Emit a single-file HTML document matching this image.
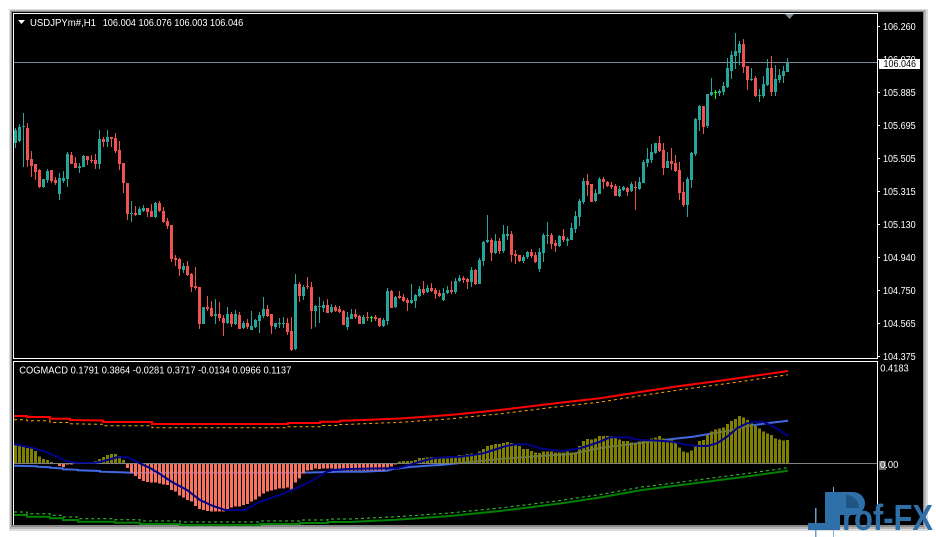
<!DOCTYPE html>
<html>
<head>
<meta charset="utf-8">
<style>
html,body{margin:0;padding:0;background:#ffffff;width:936px;height:537px;overflow:hidden}
svg{display:block}
text{font-family:"Liberation Sans",Arial,sans-serif}
</style>
</head>
<body>
<svg id="s" width="936" height="537" viewBox="0 0 936 537" xmlns="http://www.w3.org/2000/svg">
  <!-- frame / shadow -->
  <rect x="0" y="0" width="936" height="537" fill="#ffffff"/>
  <rect x="9" y="9" width="919" height="522" fill="#dcdcdc"/>
  <rect x="10" y="10" width="916" height="519" fill="#b4b4b4"/>
  <rect x="11" y="11" width="913" height="516" fill="#8a8a8a"/>
  <rect x="12" y="12" width="911" height="513" fill="#000000"/>

  <g shape-rendering="crispEdges" fill="#ffffff">
    <!-- main window borders -->
    <rect x="13" y="13" width="865" height="1"/>
    <rect x="13" y="13" width="1" height="346"/>
    <rect x="877" y="13" width="1" height="346"/>
    <rect x="13" y="358" width="865" height="1"/>
    <!-- indicator window borders -->
    <rect x="13" y="361" width="865" height="1"/>
    <rect x="13" y="361" width="1" height="164"/>
    <rect x="877" y="361" width="1" height="164"/>
  </g>

  <!-- price scale ticks -->
  <g shape-rendering="crispEdges" fill="#ffffff">
    <rect x="878" y="26" width="2" height="1"/>
    <rect x="878" y="59" width="2" height="1"/>
    <rect x="878" y="92" width="2" height="1"/>
    <rect x="878" y="125" width="2" height="1"/>
    <rect x="878" y="158" width="2" height="1"/>
    <rect x="878" y="191" width="2" height="1"/>
    <rect x="878" y="224" width="2" height="1"/>
    <rect x="878" y="257" width="2" height="1"/>
    <rect x="878" y="290" width="2" height="1"/>
    <rect x="878" y="323" width="2" height="1"/>
    <rect x="878" y="356" width="2" height="1"/>
  </g>

  <!-- price labels -->
  <g fill="#ffffff" font-size="10">
    <text x="883" y="29.8" textLength="32.7" lengthAdjust="spacingAndGlyphs">106.260</text>
    <text x="883" y="62.8" textLength="32.7" lengthAdjust="spacingAndGlyphs">106.070</text>
    <text x="883" y="95.8" textLength="32.7" lengthAdjust="spacingAndGlyphs">105.885</text>
    <text x="883" y="128.8" textLength="32.7" lengthAdjust="spacingAndGlyphs">105.695</text>
    <text x="883" y="161.8" textLength="32.7" lengthAdjust="spacingAndGlyphs">105.505</text>
    <text x="883" y="194.8" textLength="32.7" lengthAdjust="spacingAndGlyphs">105.315</text>
    <text x="883" y="227.8" textLength="32.7" lengthAdjust="spacingAndGlyphs">105.130</text>
    <text x="883" y="260.8" textLength="32.7" lengthAdjust="spacingAndGlyphs">104.940</text>
    <text x="883" y="293.8" textLength="32.7" lengthAdjust="spacingAndGlyphs">104.750</text>
    <text x="883" y="326.8" textLength="32.7" lengthAdjust="spacingAndGlyphs">104.565</text>
    <text x="883" y="359.8" textLength="32.7" lengthAdjust="spacingAndGlyphs">104.375</text>
  </g>

  <!-- current price line & label -->
  <rect x="14" y="62" width="863" height="1" fill="#7d8a97" shape-rendering="crispEdges"/>
  <rect x="879" y="59" width="41" height="10" fill="#ffffff" shape-rendering="crispEdges"/>
  <text x="883.5" y="67" font-size="10" fill="#000000" textLength="32.5" lengthAdjust="spacingAndGlyphs">106.046</text>

  <!-- top shift marker -->
  <polygon points="785,14 794,14 789.5,19" fill="#7d8a97"/>

  <!-- header -->
  <polygon points="18,20 25,20 21.5,24" fill="#ffffff"/>
  <text x="30" y="26" font-size="10" fill="#ffffff" textLength="66" lengthAdjust="spacingAndGlyphs">USDJPYm#,H1</text>
  <text x="102.7" y="26" font-size="10" fill="#ffffff" textLength="140.6" lengthAdjust="spacingAndGlyphs">106.004 106.076 106.003 106.046</text>

  <!-- candles -->
  <g id="cd" shape-rendering="crispEdges"></g>

  <!-- indicator -->
  <text x="19.3" y="373.7" font-size="10" fill="#ffffff" textLength="272" lengthAdjust="spacingAndGlyphs">COGMACD 0.1791 0.3864 -0.0281 0.3717 -0.0134 0.0966 0.1137</text>
  <text x="880.3" y="371.7" font-size="10" fill="#ffffff" textLength="28.4" lengthAdjust="spacingAndGlyphs">0.4183</text>
  <rect x="879" y="461" width="7" height="9" fill="#6e6e6e" shape-rendering="crispEdges"/>
  <text x="880" y="467.8" font-size="10" fill="#ffffff" textLength="18.3" lengthAdjust="spacingAndGlyphs">0.00</text>

  <polyline fill="none" stroke="#ff0000" stroke-width="2" points="14,416 27,416 27,417 50,417 50,418.7 70,418.7 70,420 103,420.5 103,422 152,422 152,424 288,424 288,423 320,423 320,421.7 340,421.7 340,420.7 350,420.5 400,418.5 450,415 500,410 560,402.7 600,398.3 640,392 680,386 720,380.7 760,375 788,371"/>
  <polyline fill="none" stroke="#ffa500" stroke-width="1" stroke-dasharray="3,3" points="14,419.8 27,419.8 27,420.8 50,420.8 50,422.5 70,422.5 70,423.8 103,424.3 103,425.8 152,425.8 152,427.8 288,427.8 288,426.8 320,426.8 320,425.5 340,425.5 340,424.5 350,424.3 400,422.3 450,418.8 500,413.8 560,406.5 600,402.1 640,395.8 680,389.8 720,384.5 760,378.8 788,374.8"/>
  <polyline fill="none" stroke="#008000" stroke-width="2" points="14,515 27,515 27,516.7 50,516.7 50,518.3 63,518.3 63,520 78,520 78,521.7 115,521.7 115,522.7 140,522.7 140,524 180,524 180,525 260,525 260,524 300,524 300,523 328,523 328,522 350,522 400,519.5 450,516 500,511 560,503.5 600,497.5 642,490 693,483.5 720,480 747,476.5 788,470.7"/>
  <polyline fill="none" stroke="#32cd32" stroke-width="1" stroke-dasharray="3,3" points="14,512 27,512 27,513.7 50,513.7 50,515.3 63,515.3 63,517 78,517 78,518.7 115,518.7 115,519.7 140,519.7 140,521 180,521 180,522 260,522 260,521 300,521 300,520 328,520 328,519 350,519 400,516.5 450,513 500,508 560,500.5 600,494.5 642,487 693,480.5 720,477 747,473.5 788,467.7"/>
  <polyline fill="none" stroke="#4169e1" stroke-width="2" points="14,465.7 37,466.2 37,466.7 50,467.2 50,467.7 63,468.5 63,469.3 78,469.8 78,470.3 100,471 100,471.7 120,472.2 130,472.7 300,472.7 340,471.7 363,471.7 387,470.7 393,469 400,468.3 410,467 427,465.7 440,465 473,461.7 500,459 527,457 553,455 570,454.3 600,448 670,439.3 693,436.7 713,433.3 733,430 747,426 767,423.3 788,420.7"/>

  <g id="hist" shape-rendering="crispEdges"></g>
  <rect x="14" y="463" width="863" height="1" fill="#808080" shape-rendering="crispEdges"/>

  <polyline fill="none" stroke="#00008b" stroke-width="2" points="14,444 33,448 45,451.7 57,456.7 65,460.7 75,462.7 95,462.7 100,462 110,459.3 117,457.3 127,457.3 135,460.7 140,463.3 150,468 160,474 172,482 187,490 200,500 213,506 225,510 245,510 260,501.7 280,495 300,486.7 313,480 327,471.7 333,470 347,469 387,468.3 397,468.3 407,465.7 420,461.7 433,458.3 447,457.3 460,456.7 473,455 483,453.3 497,449 507,445.7 517,444.3 527,444.3 540,448.3 553,450.3 563,451 580,448.3 600,441.7 610,437.3 627,437.3 640,440 660,440.7 673,441.7 687,445 700,446 707,446 717,443.3 727,436.7 737,428.3 747,423.3 757,421.7 763,421.7 770,425 780,430.7 788,436"/>

  <!-- Prof-FX logo -->
  <g>
    <rect x="833" y="487" width="1" height="50" fill="#8ab0d6"/>
    <rect x="815" y="508" width="1.5" height="29" fill="#6a9ccc"/>
    <rect x="808" y="523" width="17" height="7" fill="#2f6fa7"/>
    <rect x="825" y="492" width="15" height="38" fill="#2f6fa7"/>
    <path d="M839,492 H853 A12 11.5 0 0 1 853 515 H839 Z" fill="#2f6fa7"/>
    <path d="M846,495 A13 13 0 0 1 859 508 L846 508 Z" fill="#1f5583"/>
    <text x="842" y="530" font-size="36" font-weight="bold" fill="#2f6fa7" textLength="91" lengthAdjust="spacingAndGlyphs">rof-FX</text>
  </g>
</svg>

<script>
(function(){
var C=[
['g',130,143,128,148],['g',127,141,124,142],['g',126,127,113,167],['r',128,160,123,167],['r',159,166,151,177],
['r',164,172,164,180],['r',170,187,169,188],['g',179,187,179,188],['g',171,180,169,183],['r',170,181,170,183],
['r',180,183,177,185],['g',178,194,173,200],['g',178,181,171,183],['g',154,179,152,187],['r',155,164,152,164],
['r',163,168,157,168],['g',166,168,163,173],['g',156,167,155,167],['r',156,160,156,165],['r',160,161,155,163],
['r',160,164,154,169],['g',139,164,130,169],['r',139,142,137,147],['g',137,142,130,147],['r',137,139,137,147],
['r',138,151,133,153],['r',150,164,141,170],['r',163,183,163,193],['r',183,214,183,220],['g',213,214,201,222],
['r',213,215,206,216],['g',209,215,207,215],['g',208,211,205,212],['r',208,212,208,217],['r',211,217,204,217],
['g',203,217,202,218],['r',203,211,201,212],['r',211,222,207,223],['r',221,226,218,229],['r',225,259,225,262],
['r',258,260,255,266],['r',259,269,258,276],['g',266,270,263,273],['r',266,275,261,276],['r',274,287,273,292],
['r',286,288,267,290],['r',287,324,287,329],['g',307,324,307,324],['r',307,309,296,311],['r',308,316,301,317],
['g',314,316,299,324],['r',314,318,302,321],['r',318,323,315,336],['g',314,323,307,324],['r',314,324,312,327],
['g',314,324,310,325],['r',315,329,312,329],['g',323,328,321,329],['r',323,327,319,329],['g',326,330,311,330],
['g',320,327,319,328],['g',315,321,312,333],['g',309,316,297,318],['r',309,316,305,317],['r',314,326,314,334],
['g',323,327,323,329],['g',323,324,318,328],['g',323,324,317,328],['r',323,332,318,335],['r',331,350,317,351],
['g',284,349,274,350],['r',284,296,282,302],['g',287,296,285,300],['r',286,287,277,289],['r',287,311,282,329],
['g',306,311,305,327],['g',306,307,297,323],['g',305,308,301,312],['r',305,313,299,313],['g',307,312,304,313],
['r',307,311,305,312],['r',309,312,306,313],['r',311,325,310,325],['g',317,327,312,330],['g',314,319,309,319],
['r',314,317,309,319],['r',316,324,315,324],['g',317,324,315,324],['r',317,318,312,321],['l',317,318,316,322],
['r',317,319,315,321],['r',318,326,318,327],['g',320,326,318,327],['g',291,321,288,325],['r',291,308,290,308],
['g',297,307,296,308],['r',296,298,291,299],['r',297,301,294,302],['r',300,303,298,311],['g',300,303,284,304],
['g',295,301,294,308],['g',289,296,286,297],['r',289,293,281,295],['g',288,292,285,293],['r',288,291,283,292],
['r',290,294,288,299],['r',293,296,290,297],['g',293,300,288,301],['g',290,293,286,294],['r',290,292,281,294],
['g',281,292,278,294],['g',278,281,275,282],['r',278,280,276,283],['r',279,282,278,289],['g',270,282,267,287],
['r',270,284,269,285],['g',260,284,258,284],['g',242,261,241,266],['g',240,242,215,243],['r',240,253,238,261],
['g',241,253,234,254],['r',241,251,238,254],['g',234,251,225,253],['g',234,236,226,240],['r',234,255,231,262],
['r',254,256,250,264],['r',255,261,255,262],['g',257,261,255,263],['g',252,257,251,259],['r',252,256,249,258],
['r',255,262,252,263],['g',252,269,248,272],['g',235,253,233,262],['g',235,236,222,244],['r',235,244,233,249],
['r',243,246,240,252],['g',236,246,235,247],['r',236,240,229,242],['g',239,241,237,246],['g',228,240,223,240],
['g',216,229,211,233],['g',201,217,199,226],['g',181,202,178,204],['r',181,185,174,196],['r',184,202,184,202],
['g',193,201,189,202],['g',179,194,177,194],['r',179,182,177,189],['r',182,186,181,187],['r',185,187,182,189],
['r',186,196,184,196],['g',189,196,186,197],['g',187,190,186,191],['r',188,192,187,196],['g',184,191,182,192],
['r',187,188,181,210],['g',182,189,177,190],['g',162,183,160,183],['g',159,163,148,167],['g',152,160,144,163],
['g',143,153,143,154],['r',143,151,136,152],['r',150,168,143,175],['g',161,168,152,168],['r',161,164,148,170],
['r',163,171,155,172],['r',170,193,162,200],['r',192,205,182,207],['g',179,205,177,217],['g',153,180,152,188],
['g',119,154,118,156],['g',106,120,105,131],['r',106,127,106,134],['g',94,126,94,128],['g',92,95,78,96],
['l',92,93,90,99],['g',91,93,89,96],['g',86,92,82,95],['g',68,87,58,88],['g',55,71,51,79],
['g',51,56,33,69],['g',44,53,41,65],['r',44,67,39,73],['r',66,80,66,90],['g',79,80,68,81],
['r',78,96,76,97],['g',95,96,89,102],['g',84,96,76,98],['g',68,85,59,86],['r',68,92,56,96],
['g',79,92,65,96],['g',75,80,69,83],['g',71,76,66,83],['g',63,72,58,72]
];
var h='';
for(var i=0;i<C.length;i++){
  var c=C[i];
  var col=c[0]=='g'?'#26a69a':(c[0]=='r'?'#ef5350':'#00ff00');
  var x=14+4*i;
  h+='<rect x="'+(x+1)+'" y="'+c[3]+'" width="1" height="'+Math.max(1,c[4]-c[3])+'" fill="'+col+'"/>';
  h+='<rect x="'+x+'" y="'+c[1]+'" width="3" height="'+Math.max(1,c[2]-c[1])+'" fill="'+col+'"/>';
}
document.getElementById('cd').innerHTML=h;

var H=[445,446,447,448,448,451,456.7,459,460,462,
464,466,467,464.5,464.5,464,463.5,463,462.5,462,
461,459,457,455,454,454,456,460,468,473,
476,479,481,482,482.7,482.7,483.3,484.3,485,490,
491.7,495.7,497.3,500,501.7,506,509,510,511,511.7,
511.7,511.7,511.7,510,507.3,506.7,506.7,505,504,501.7,
499.3,496.7,493.3,491.7,490.7,489.3,488.3,488.3,487.3,490,
482.7,478.3,473.3,470.7,470,468.3,469,468.3,468.3,468.3,
469,469,470.7,470.7,470.7,470.7,470.7,470.7,470.7,470.7,
470.7,470.7,470.7,468.3,466.7,464.5,461.7,461,461,461,
460,458,458,457.3,457,457,458,458.3,458.3,457.7,
456.7,455,455,454,453.3,454.3,451.7,449,446,445,
444,444,443,442,443,445,446,449,449,451,
452.3,453,451.7,451.7,451.7,452.3,452.3,452.3,451.7,452.7,
452.7,446,441,439,439.3,438.3,436,436,436,436,
437.7,439.3,441,441,442.7,443.3,441.7,440,439.3,438.3,
437.3,436,438.3,440,439.3,442.7,447.3,451.7,452.7,450.7,
446,441,440,435,431.7,429.3,428.3,427.3,424,421,
419,416,417.3,420,422.7,426,428.3,431.7,433.3,435,
438.3,439.3,440.7,440];
var s='';
for(var j=0;j<H.length;j++){
  var v=H[j], x2=14+4*j;
  if(v<463){
    s+='<rect x="'+x2+'" y="'+v+'" width="3" height="'+(463-v)+'" fill="#808000"/>';
  } else if(v>464.2){
    s+='<rect x="'+x2+'" y="464" width="3" height="'+(v-464)+'" fill="#fa735f"/>';
  }
}
document.getElementById('hist').innerHTML=s;
})();
</script>
</body>
</html>
